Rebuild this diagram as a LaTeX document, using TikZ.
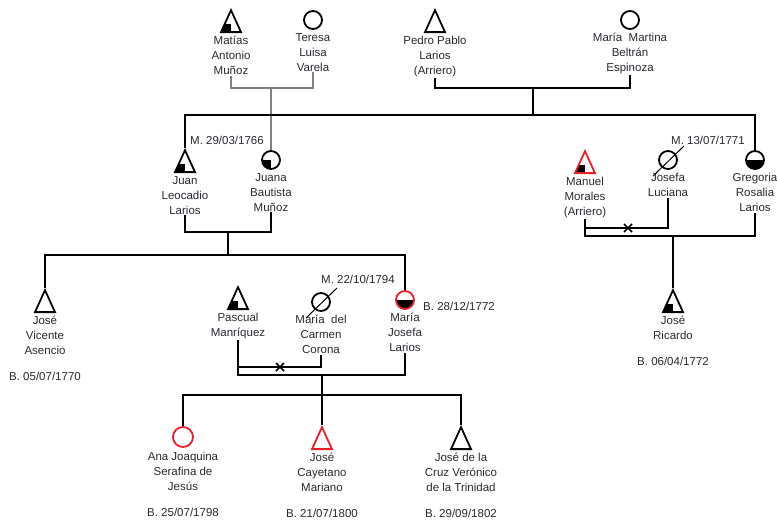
\documentclass[tikz,border=0pt]{standalone}
\usepackage{fontspec}
\setmainfont{Liberation Sans}
\usetikzlibrary{calc, positioning}
\usetikzlibrary{shapes.geometric}

\definecolor{kinred}{RGB}{232,30,38}
\definecolor{txtgray}{RGB}{40,40,48}

\begin{document}
\begin{tikzpicture}[x=1pt,y=-1pt,
  male/.style={draw, isosceles triangle, shape border rotate=90,
    isosceles triangle apex angle=49, minimum width=20pt, minimum height=20pt,
    inner sep=0pt, line width=1.8pt},
  female/.style={draw, circle, minimum size=18pt, inner sep=0pt, line width=1.8pt},
  lowleft/.style={path picture={\fill[black] (path picture bounding box.south west)
    rectangle ($(path picture bounding box.south)!0.72!(path picture bounding box.center)$);}},
  quarter/.style={path picture={\fill[black] (path picture bounding box.south west)
    rectangle (path picture bounding box.center);}},
  halffill/.style={path picture={\fill[black] (path picture bounding box.south west)
    rectangle (path picture bounding box.east);}},
  pname/.style={align=center, font=\fontsize{11.5}{15}\selectfont, text=txtgray, inner sep=1pt},
  note/.style={font=\fontsize{11.5}{15}\selectfont, text=txtgray, inner sep=0pt},
  bond/.style={draw=black, line width=1.7pt},
]
\useasboundingbox (0,0) rectangle (777,522);

% First generation
\node[male, lowleft, anchor=apex] (matias) at (231,8) {};
\node[female] (teresa) at (313,20) {};
\node[male, anchor=apex] (pedro) at (435,8) {};
\node[female] (martina) at (630,20) {};
\node[pname, below=2pt of matias] (matiasn) {Matías\\Antonio\\Muñoz};
\node[pname, below=2pt of teresa] (teresan) {Teresa\\Luisa\\Varela};
\node[pname, below=2pt of pedro] (pedron) {Pedro Pablo\\Larios\\(Arriero)};
\node[pname, below=2pt of martina] (martinan) {María\ \ Martina\\Beltrán\\Espinoza};

% Second generation
\node[male, lowleft, anchor=apex] (juan) at (185,148) {};
\node[female, quarter] (juana) at (271,160) {};
\node[male, lowleft, draw=kinred, anchor=apex] (manuel) at (585,149) {};
\node[female] (josefa) at (668,160) {};
\node[female, halffill] (gregoria) at (755,160) {};
\node[pname, below=2pt of juan] (juann) {Juan\\Leocadio\\Larios};
\node[pname, below=2pt of juana] (juanan) {Juana\\Bautista\\Muñoz};
\node[pname, below=2pt of manuel] (manueln) {Manuel\\Morales\\(Arriero)};
\node[pname, below=2pt of josefa] (josefan) {Josefa\\Luciana};
\node[pname, below=2pt of gregoria] (gregorian) {Gregoria\\Rosalia\\Larios};
\node[note] (wed1) at (227,140) {M. 29/03/1766};
\node[note] (wed2) at (708,140) {M. 13/07/1771};

% Third generation
\node[male, anchor=apex] (vicente) at (45,288) {};
\node[male, lowleft, anchor=apex] (pascual) at (238,285) {};
\node[female] (carmen) at (321,302) {};
\node[female, halffill, draw=kinred] (mjosefa) at (405,300) {};
\node[male, lowleft, anchor=apex] (ricardo) at (673,288) {};
\node[pname, below=2pt of vicente] (vicenten) {José\\Vicente\\Asencio};
\node[pname, below=2pt of pascual] (pascualn) {Pascual\\Manríquez};
\node[pname, below=2pt of carmen] (carmenn) {María\ \ del\\Carmen\\Corona};
\node[pname, below=2pt of mjosefa] (mjosefan) {María\\Josefa\\Larios};
\node[pname, below=2pt of ricardo] (ricardon) {José\\Ricardo};
\node[note, below=16pt of vicenten] (vicenteb) {B. 05/07/1770};
\node[note, below=16pt of ricardon] (ricardob) {B. 06/04/1772};
\node[note, anchor=west] (mjosefab) at (423,306) {B. 28/12/1772};
\node[note] (wed3) at (358,279) {M. 22/10/1794};

% Fourth generation
\node[female, draw=kinred, minimum size=20pt] (ana) at (183,437) {};
\node[male, draw=kinred, anchor=apex] (cayetano) at (322,425) {};
\node[male, anchor=apex] (cruz) at (461,425) {};
\node[pname, below=3pt of ana] (anan) {Ana Joaquina\\Serafina de\\Jesús};
\node[pname, below=2pt of cayetano] (cayetanon) {José\\Cayetano\\Mariano};
\node[pname, below=2pt of cruz] (cruzn) {José de la\\Cruz Verónico\\de la Trinidad};
\node[note, below=16pt of anan] (anab) {B. 25/07/1798};
\node[note, below=16pt of cayetanon] (cayetanob) {B. 21/07/1800};
\node[note, below=16pt of cruzn] (cruzb) {B. 29/09/1802};

% Unions and descent lines
\coordinate (u1) at (271,88);
\coordinate (u2) at (533,88);
\coordinate (s1) at (533,115);
\coordinate (u3) at (228,232);
\coordinate (s2) at (228,255);
\coordinate (x1) at (628,228);
\coordinate (u4) at (673,236);
\coordinate (x2) at (280,367);
\coordinate (u5) at (322,375);
\coordinate (s3) at (322,395);

\draw[bond, draw=gray] (matiasn.south) |- (u1) -| (teresan.south);
\draw[bond, draw=gray] (u1) -- (juana.north);
\draw[bond] (pedron.south) |- (u2) -| (martinan.south);
\draw[bond] (u2) -- (s1);
\draw[bond] (juan.apex) |- (s1) -| (gregoria.north);

\draw[bond] (juann.south) |- (u3) -| (juanan.south);
\draw[bond] (u3) -- (s2);
\draw[bond] (vicente.apex) |- (s2) -| (mjosefa.north);

\draw[bond] (manueln.south) |- (x1) -| (josefan.south);
\draw[bond] (manueln.south) |- (u4) -| (gregorian.south);
\draw[bond] (u4) -- (ricardo.apex);

\draw[bond] (pascualn.south) |- (x2) -| (carmenn.south);
\draw[bond] (pascualn.south) |- (u5) -| (mjosefan.south);
\draw[bond] (u5) -- (s3);
\draw[bond] (ana.north) |- (s3) -| (cruz.apex);
\draw[bond] (s3) -- (cayetano.apex);

% Separation marks and slashes
\foreach \c in {x1,x2} {
  \draw[bond] ($(\c)+(-4,-4)$) -- ($(\c)+(4,4)$);
  \draw[bond] ($(\c)+(-4,4)$) -- ($(\c)+(4,-4)$);
}
\foreach \c in {josefa,carmen}
  \draw[line width=1pt] ($(\c.center)+(-15,16)$) -- ($(\c.center)+(16,-14)$);
\end{tikzpicture}
\end{document}
